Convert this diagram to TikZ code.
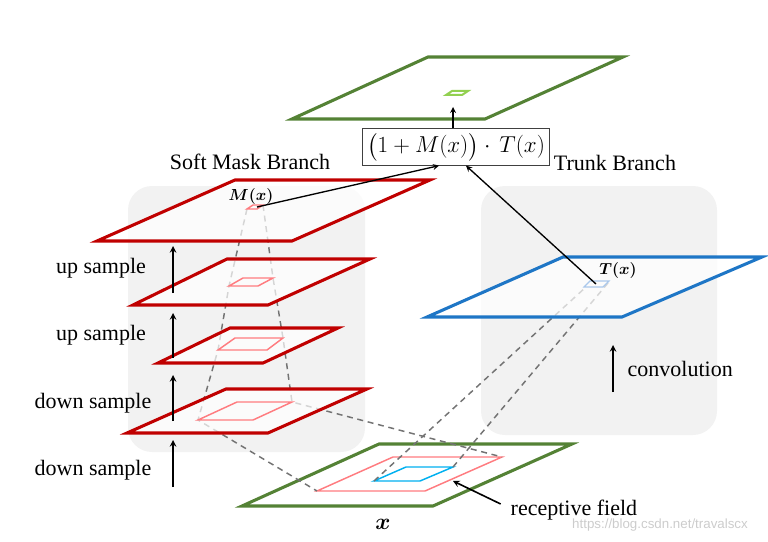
\documentclass[tikz,border=0pt]{standalone}
\usepackage{fontspec}
\setmainfont{Liberation Serif}
\newfontfamily\markfont{Liberation Sans}
\usepackage{amsmath}
\definecolor{maskred}{RGB}{192,0,0}
\definecolor{fieldpink}{RGB}{255,124,128}
\definecolor{inputgreen}{RGB}{84,130,53}
\definecolor{outgreen}{RGB}{146,208,80}
\definecolor{trunkblue}{RGB}{30,118,198}
\definecolor{cellblue}{RGB}{0,176,240}
\definecolor{paleblue}{RGB}{170,200,235}
\definecolor{panelgray}{RGB}{242,242,242}
\begin{document}
\begin{tikzpicture}[x=0.75pt,y=-0.75pt,>=stealth,
  plane/.style={line width=2.3pt,fill=white,fill opacity=0.7},
  cell/.style={line width=1.1pt},
  rf/.style={draw=black!55,line width=1.1pt,dash pattern=on 4.5pt off 3.5pt},
  lbl/.style={font=\fontsize{16.5}{20}\selectfont},
  up/.style={->,line width=1.2pt}]
\def\xArrow{173}
\useasboundingbox (0,0) rectangle (768,542);
% grey branch panels
\fill[panelgray,rounded corners=18pt] (128,186) rectangle (365,452);
\fill[panelgray,rounded corners=18pt] (481,186) rectangle (717,435);
% input x
\draw[plane,draw=inputgreen] (379,444) -- (572,444) -- (433,506) -- (242,506) -- cycle;
\draw[cell,fieldpink] (393,457) -- (502,457) -- (425,491) -- (317,491) -- cycle;
\draw[cell,cellblue] (406,467) -- (453,467) -- (420,481) -- (374,481) -- cycle;
% receptive field lines
\draw[rf] (247,209) -- (229,286) -- (218,350) -- (198,420) -- (317,491);
\draw[rf] (263,205) -- (273,278) -- (283,338) -- (292,402) -- (502,457);
\draw[rf] (374,481) -- (586,287);
\draw[rf] (453,467) -- (608,283);
% soft mask branch
\draw[plane,draw=maskred] (226,389) -- (367,389) -- (268,433) -- (127,433) -- cycle;
\draw[cell,fieldpink] (237,402) -- (292,402) -- (253,420) -- (198,420) -- cycle;
\draw[plane,draw=maskred] (230,328) -- (338,328) -- (263,363) -- (158,363) -- cycle;
\draw[cell,fieldpink] (235,338) -- (283,338) -- (267,350) -- (218,350) -- cycle;
\draw[plane,draw=maskred] (227,259) -- (370,259) -- (268,305) -- (133,305) -- cycle;
\draw[cell,fieldpink] (243,278) -- (273,278) -- (258,286) -- (229,286) -- cycle;
\draw[plane,draw=maskred] (235,180) -- (430,180) -- (292,241) -- (97,241) -- cycle;
\draw[cell,fieldpink] (253,205) -- (263,205) -- (257,209) -- (247,209) -- cycle;
% trunk branch
\draw[plane,draw=trunkblue] (563,257) -- (762,257) -- (622,317) -- (427,317) -- cycle;
\draw[cell,paleblue,line width=0.9pt] (590,281) -- (609,281) -- (603,287) -- (584,287) -- cycle;
% output
\draw[plane,draw=inputgreen] (428,57) -- (623,57) -- (485,119) -- (292,119) -- cycle;
\draw[cell,outgreen,line width=1.5pt] (452,91) -- (468,91) -- (462,95) -- (446,95) -- cycle;
\coordinate (mcell) at (257,207);
\coordinate (tcell) at (596,284);
\coordinate (ycell) at (453,107);
\coordinate (rfcell) at (453,481);
\path
(456,147) node[draw=black!75,line width=0.6pt,minimum width=136pt,minimum height=24.5pt,font=\fontsize{17}{20}\selectfont] (prod) {$\bigl(1+M(x)\bigr)\cdot\,T(x)$}
(250,162) node[lbl] (softlbl) {Soft Mask Branch}
(615,163) node[lbl] (trunklbl) {Trunk Branch}
(93,470) node[lbl] (down1) {down sample}
(93,403) node[lbl] (down2) {down sample}
(101,335) node[lbl] (up1) {up sample}
(101,268) node[lbl] (up2) {up sample}
(623,369) node[lbl,anchor=west] (conv) {convolution}
(506,510) node[lbl,anchor=west] (recep) {receptive field}
(251,196) node[font=\fontsize{11.5}{13}\selectfont] (mlbl) {$\boldsymbol{M(x)}$}
(618,270) node[font=\fontsize{11.5}{13}\selectfont] (tlbl) {$\boldsymbol{T(x)}$}
(383,524) node[font=\fontsize{16}{18}\selectfont] (xlbl) {$\boldsymbol{x}$}
(660,525) node[text=black!20,font=\markfont\fontsize{10}{12}\selectfont] (mark) {https://blog.csdn.net/travalscx}
;
\draw[->,line width=1pt] (mcell) -- ([xshift=-12.75pt]prod.south);
\draw[->,line width=1pt] (tcell) -- ([xshift=7.5pt]prod.south);
\draw[->,line width=1pt] ([xshift=-2.25pt]prod.north) -- (ycell);
\draw[->,line width=1.2pt] ([xshift=-4pt,yshift=4.5pt]recep.west) -- (rfcell);
\foreach \ya/\yb in {487/440,421/375,358/313,293/246}
  \draw[up] (\xArrow,\ya) -- (\xArrow,\yb);
\draw[up] (613,392) -- (613,345);
\end{tikzpicture}
\end{document}
